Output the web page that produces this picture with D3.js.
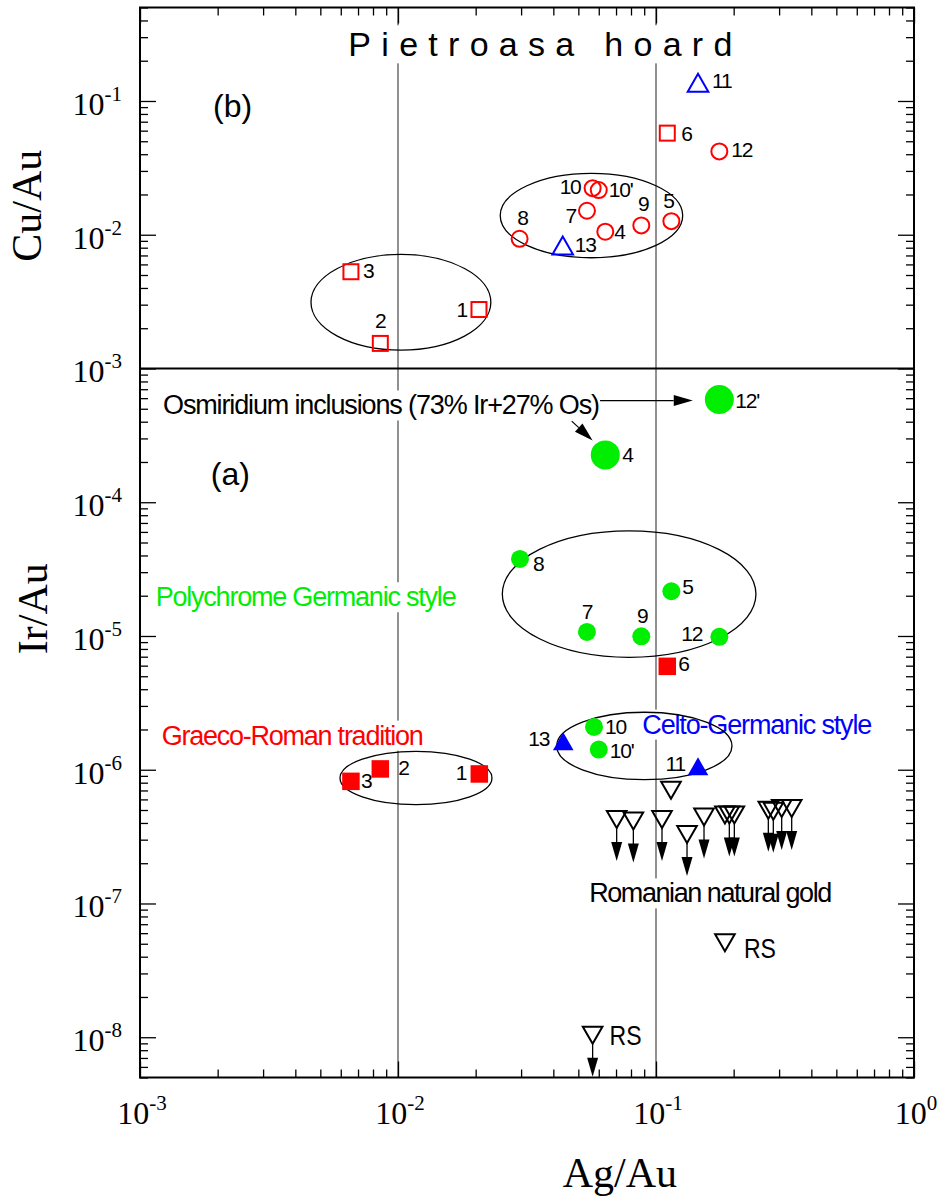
<!DOCTYPE html>
<html>
<head>
<meta charset="utf-8">
<script src="https://cdn.jsdelivr.net/npm/d3@7"></script>
<style>
  body { margin: 0; background: #fff; }
  .num { font-family: "Liberation Sans", Arial, sans-serif; font-size: 21px; letter-spacing: -1.2px; }
  .note { font-family: "Liberation Sans", Arial, sans-serif; font-size: 27px; }
  .tick-label { font-family: "Liberation Serif", "Times New Roman", serif; font-size: 32px; }
  .axis-title { font-family: "Liberation Serif", "Times New Roman", serif; font-size: 42px; }
</style>
</head>
<body>
<div id="chart"></div>
<script>
// ---------- data (Ag/Au on x, Cu/Au or Ir/Au on y) ----------
// (b) Cu/Au, open symbols
const cuSquares = [
  { id: '1', ag: 0.0206, v: 0.00276 },
  { id: '2', ag: 0.00854, v: 0.00154 },
  { id: '3', ag: 0.00657, v: 0.00529 },
  { id: '6', ag: 0.1106, v: 0.0575 }
];
const cuCircles = [
  { id: '4', ag: 0.0636, v: 0.01053 },
  { id: '5', ag: 0.1147, v: 0.01264 },
  { id: '7', ag: 0.054, v: 0.01511 },
  { id: '8', ag: 0.0296, v: 0.00933 },
  { id: '9', ag: 0.0877, v: 0.01174 },
  { id: '10', ag: 0.0568, v: 0.02231 },
  { id: "10'", ag: 0.060, v: 0.02157 },
  { id: '12', ag: 0.176, v: 0.042 }
];
const cuTriangles = [
  { id: '11', ag: 0.1455, v: 0.137 },
  { id: '13', ag: 0.0435, v: 0.00832 }
];

// (a) Ir/Au, filled symbols
const irSquares = [
  { id: '1', ag: 0.02066, v: 9.3e-7 },
  { id: '2', ag: 0.00854, v: 1.014e-6 },
  { id: '3', ag: 0.00657, v: 8.19e-7 },
  { id: '6', ag: 0.1106, v: 5.93e-6 }
];
const irCircles = [
  { id: '5', ag: 0.1147, v: 2.16e-5 },
  { id: '7', ag: 0.054, v: 1.073e-5 },
  { id: '8', ag: 0.0297, v: 3.77e-5 },
  { id: '9', ag: 0.0877, v: 9.95e-6 },
  { id: '10', ag: 0.0575, v: 2.09e-6 },
  { id: "10'", ag: 0.060, v: 1.414e-6 },
  { id: '12', ag: 0.176, v: 9.85e-6 }
];
const irOsmiridium = [
  { id: '4', ag: 0.0636, v: 2.26e-4 },
  { id: "12'", ag: 0.176, v: 5.86e-4 }
];
const irTriangles = [
  { id: '11', ag: 0.1455, v: 1.06e-6 },
  { id: '13', ag: 0.0437, v: 1.63e-6 }
];
// Romanian natural gold, upper limits
const naturalGold = [
  { ag: 0.1143, v: 7.10e-7, limit: false },
  { ag: 0.0704, v: 4.29e-7, limit: true },
  { ag: 0.0817, v: 4.18e-7, limit: true },
  { ag: 0.1055, v: 4.29e-7, limit: true },
  { ag: 0.1319, v: 3.31e-7, limit: true },
  { ag: 0.1535, v: 4.48e-7, limit: true },
  { ag: 0.185, v: 4.62e-7, limit: false },
  { ag: 0.1924, v: 4.62e-7, limit: true },
  { ag: 0.2012, v: 4.62e-7, limit: true },
  { ag: 0.2725, v: 5.03e-7, limit: true },
  { ag: 0.2849, v: 4.94e-7, limit: true },
  { ag: 0.307, v: 5.18e-7, limit: true },
  { ag: 0.3357, v: 5.18e-7, limit: true },
  { id: 'RS1', ag: 0.185, v: 5.12e-8, limit: false, label: 'RS' },
  { id: 'RS2', ag: 0.0568, v: 1.044e-8, limit: true, label: 'RS' }
];

// group ellipses, bounding box in data units [agLo, agHi, vLo, vHi]
const groups = [
  [0.0046, 0.0229, 0.00137, 0.00712],
  [0.0249, 0.1269, 0.00673, 0.02874],
  [0.02537, 0.244, 6.93e-6, 6.11e-5],
  [0.04122, 0.197, 8.43e-7, 2.69e-6],
  [0.00596, 0.02313, 5.48e-7, 1.373e-6]
];

const xTicks = [1e-3, 1e-2, 1e-1, 1];
const yTicks = [1e-8, 1e-7, 1e-6, 1e-5, 1e-4, 1e-3, 1e-2, 1e-1];

// ---------- layout ----------
const W = 940, H = 1200;
const x = d3.scaleLog().domain([1e-3, 1]).range([140, 914]);
const y = d3.scaleLog().domain([5e-9, 0.5]).range([1077.5, 7.5]);

// label offsets [dx, dy, anchor]
const labelOffset = {
  b1: [-12, 7, 'end'], b2: [0, -15, 'middle'], b3: [12, 6, 'start'], b6: [14, 8, 'start'],
  b4: [9, 7, 'start'], b5: [-3, -13, 'middle'], b7: [-11, 12, 'end'], b8: [3, -14, 'middle'],
  b9: [2, -14, 'middle'], b10: [-12, 6, 'end'], "b10'": [10, 7, 'start'], b12: [12, 6, 'start'],
  b11: [14, 5, 'start'], b13: [12, 7, 'start'],
  a1: [-13, 6, 'end'], a2: [18, 6, 'start'], a3: [10, 7, 'start'], a6: [11, 5, 'start'],
  a4: [17, 7, 'start'], "a12'": [16, 8, 'start'],
  a5: [11, 3, 'start'], a7: [0, -13, 'middle'], a8: [13, 12, 'start'], a9: [1, -13, 'middle'],
  a10: [11, 7, 'start'], "a10'": [11, 8, 'start'], a12: [-17, 4, 'end'],
  a11: [-13, 5, 'end'], a13: [-14, 5, 'end'],
  RS1: [19, 16, 'start'], RS2: [17, 10, 'start']
};

const svg = d3.select('#chart').append('svg')
  .attr('width', W).attr('height', H)
  .style('font-family', 'Liberation Sans, Arial, sans-serif');

const [x0, x1] = x.range();
const [yb, yt] = y.range();

// reference lines
svg.selectAll('.vline').data([1e-2, 1e-1]).join('line')
  .attr('x1', d => x(d)).attr('x2', d => x(d))
  .attr('y1', yt).attr('y2', yb)
  .attr('stroke', '#555').attr('stroke-width', 1.3);

// annotations (white box knocks out the lines behind them)
const notes = [
  { text: 'Pietroasa hoard', ag: 6.42e-3, v: 0.2157, size: 34, len: 384, color: '#000' },
  { text: 'Osmiridium inclusions (73% Ir+27% Os)', ag: 1.228e-3, v: 4.53e-4, size: 27, len: 437, color: '#000' },
  { text: 'Polychrome Germanic style', ag: 1.15e-3, v: 1.668e-5, size: 27, len: 301, color: '#00ee00' },
  { text: 'Graeco-Roman tradition', ag: 1.214e-3, v: 1.54e-6, size: 27, len: 262, color: '#ff0000' },
  { text: 'Celto-Germanic style', ag: 0.0885, v: 1.862e-6, size: 27, len: 230, color: '#0000ff' },
  { text: 'Romanian natural gold', ag: 0.0551, v: 1.019e-7, size: 27, len: 243, color: '#000' },
  { text: '(b)', ag: 1.92e-3, v: 0.0754, size: 32, len: null, color: '#000' },
  { text: '(a)', ag: 1.88e-3, v: 1.357e-4, size: 32, len: null, color: '#000' }
];
const noteG = svg.append('g');
notes.forEach(n => {
  const g = noteG.append('g');
  const t = g.append('text')
    .attr('x', x(n.ag)).attr('y', y(n.v))
    .attr('font-size', n.size).attr('fill', n.color)
    .text(n.text);
  if (n.len) t.attr('textLength', n.len).attr('lengthAdjust', 'spacing');
  const b = t.node().getBBox();
  g.insert('rect', 'text')
    .attr('x', b.x - 1).attr('y', b.y).attr('width', b.width + 2).attr('height', b.height)
    .attr('fill', '#fff');
});

// osmiridium arrows
const arrows = [
  [[0.0607, 5.76e-4], [0.1388, 5.76e-4]],
  [[0.04714, 4.04e-4], [0.0568, 2.89e-4]]
];
arrows.forEach(([a, b]) => {
  const ax = x(a[0]), ay = y(a[1]), bx = x(b[0]), by = y(b[1]);
  const ang = Math.atan2(by - ay, bx - ax);
  const L = 19, hw = 5.5;
  const hx = bx - L * Math.cos(ang), hy = by - L * Math.sin(ang);
  svg.append('line').attr('x1', ax).attr('y1', ay).attr('x2', hx).attr('y2', hy)
    .attr('stroke', '#000').attr('stroke-width', 1.2);
  svg.append('path')
    .attr('d', `M${bx},${by}L${hx - hw * Math.sin(ang)},${hy + hw * Math.cos(ang)}L${hx + hw * Math.sin(ang)},${hy - hw * Math.cos(ang)}Z`)
    .attr('fill', '#000');
});

// Cu/Au | Ir/Au divider
svg.append('line')
  .attr('x1', x0).attr('x2', x1).attr('y1', y(1e-3)).attr('y2', y(1e-3))
  .attr('stroke', '#000').attr('stroke-width', 2);

// group ellipses
svg.selectAll('.grp').data(groups).join('ellipse')
  .attr('cx', d => (x(d[0]) + x(d[1])) / 2)
  .attr('cy', d => (y(d[2]) + y(d[3])) / 2)
  .attr('rx', d => (x(d[1]) - x(d[0])) / 2)
  .attr('ry', d => (y(d[2]) - y(d[3])) / 2)
  .attr('fill', 'none').attr('stroke', '#000').attr('stroke-width', 1.3);

// ---------- markers ----------
const triUp = 'M0,-9L10.3,9L-10.3,9Z';
const triDown = 'M-9.8,-8L9.8,-8L0,9Z';

svg.append('g').selectAll('rect').data(cuSquares).join('rect')
  .attr('x', d => x(d.ag) - 7.5).attr('y', d => y(d.v) - 7.5)
  .attr('width', 15).attr('height', 15)
  .attr('fill', 'none').attr('stroke', '#ff0000').attr('stroke-width', 2);
svg.append('g').selectAll('circle').data(cuCircles).join('circle')
  .attr('cx', d => x(d.ag)).attr('cy', d => y(d.v)).attr('r', 8)
  .attr('fill', 'none').attr('stroke', '#ff0000').attr('stroke-width', 2);
svg.append('g').selectAll('path').data(cuTriangles).join('path')
  .attr('transform', d => `translate(${x(d.ag)},${y(d.v)})`).attr('d', triUp)
  .attr('fill', 'none').attr('stroke', '#0000ff').attr('stroke-width', 2);

svg.append('g').selectAll('circle').data(irOsmiridium).join('circle')
  .attr('cx', d => x(d.ag)).attr('cy', d => y(d.v)).attr('r', 14.5)
  .attr('fill', '#00ee00');
svg.append('g').selectAll('circle').data(irCircles).join('circle')
  .attr('cx', d => x(d.ag)).attr('cy', d => y(d.v)).attr('r', 9)
  .attr('fill', '#00ee00');
svg.append('g').selectAll('rect').data(irSquares).join('rect')
  .attr('x', d => x(d.ag) - 8.75).attr('y', d => y(d.v) - 8.75)
  .attr('width', 17.5).attr('height', 17.5)
  .attr('fill', '#ff0000');
svg.append('g').selectAll('path').data(irTriangles).join('path')
  .attr('transform', d => `translate(${x(d.ag)},${y(d.v)})`).attr('d', triUp)
  .attr('fill', '#0000ff');

// natural gold: open down triangles, arrows for upper limits
const ng = svg.append('g').selectAll('g').data(naturalGold).join('g')
  .attr('transform', d => `translate(${x(d.ag)},${y(d.v)})`);
ng.append('path').attr('d', triDown)
  .attr('fill', 'none').attr('stroke', '#000').attr('stroke-width', 2);
ng.filter(d => d.limit).append('line')
  .attr('x1', 0).attr('x2', 0).attr('y1', 9).attr('y2', 26)
  .attr('stroke', '#000').attr('stroke-width', 1.3);
ng.filter(d => d.limit).append('path')
  .attr('d', 'M-5.5,23L5.5,23L0,42Z').attr('fill', '#000');

// ---------- point labels ----------
function labels(data, prefix) {
  svg.append('g').selectAll('text').data(data.filter(d => labelOffset[prefix + (d.id || '')])).join('text')
    .attr('class', 'num')
    .attr('x', d => x(d.ag) + labelOffset[prefix + d.id][0])
    .attr('y', d => y(d.v) + labelOffset[prefix + d.id][1])
    .attr('text-anchor', d => labelOffset[prefix + d.id][2])
    .text(d => d.id);
}
labels(cuSquares, 'b');
labels(cuCircles, 'b');
labels(cuTriangles, 'b');
labels(irSquares, 'a');
labels(irCircles, 'a');
labels(irOsmiridium, 'a');
labels(irTriangles, 'a');
svg.append('g').selectAll('text').data(naturalGold.filter(d => d.label)).join('text')
  .attr('class', 'note')
  .attr('x', d => x(d.ag) + labelOffset[d.id][0])
  .attr('y', d => y(d.v) + labelOffset[d.id][1])
  .attr('textLength', 32).attr('lengthAdjust', 'spacingAndGlyphs')
  .text(d => d.label);

// ---------- axes ----------
const minorX = [];
[1e-3, 1e-2, 1e-1].forEach(p => { for (let k = 2; k <= 9; k++) minorX.push(k * p); });
const minorY = [];
[1e-9, 1e-8, 1e-7, 1e-6, 1e-5, 1e-4, 1e-3, 1e-2, 1e-1].forEach(p => {
  for (let k = 2; k <= 9; k++) { const v = k * p; if (v >= 5e-9 && v <= 0.5) minorY.push(v); }
});

function tickAxis(axis, transform) {
  svg.append('g').attr('transform', transform).call(axis)
    .call(g => g.select('.domain').remove())
    .call(g => g.selectAll('line').attr('stroke', '#000').attr('stroke-width', 1.3));
}
tickAxis(d3.axisBottom(x).tickValues(xTicks).tickSize(-16).tickFormat(''), `translate(0,${yb})`);
tickAxis(d3.axisBottom(x).tickValues(minorX).tickSize(-8).tickFormat(''), `translate(0,${yb})`);
tickAxis(d3.axisTop(x).tickValues(xTicks).tickSize(-16).tickFormat(''), `translate(0,${yt})`);
tickAxis(d3.axisTop(x).tickValues(minorX).tickSize(-8).tickFormat(''), `translate(0,${yt})`);
tickAxis(d3.axisLeft(y).tickValues(yTicks).tickSize(-16).tickFormat(''), `translate(${x0},0)`);
tickAxis(d3.axisLeft(y).tickValues(minorY).tickSize(-8).tickFormat(''), `translate(${x0},0)`);
tickAxis(d3.axisRight(y).tickValues(yTicks).tickSize(-16).tickFormat(''), `translate(${x1},0)`);
tickAxis(d3.axisRight(y).tickValues(minorY).tickSize(-8).tickFormat(''), `translate(${x1},0)`);

svg.append('rect')
  .attr('x', x0).attr('y', yt).attr('width', x1 - x0).attr('height', yb - yt)
  .attr('fill', 'none').attr('stroke', '#000').attr('stroke-width', 2);

function powLabel(sel, v) {
  sel.append('tspan').text('10');
  sel.append('tspan').attr('dy', -14).attr('font-size', 21).text(String(Math.round(Math.log10(v))));
}
yTicks.forEach(v => {
  const t = svg.append('text').attr('class', 'tick-label')
    .attr('x', 122).attr('y', y(v) + 14).attr('text-anchor', 'end');
  powLabel(t, v);
});
xTicks.forEach(v => {
  const t = svg.append('text').attr('class', 'tick-label')
    .attr('x', x(v) + 2).attr('y', 1124).attr('text-anchor', 'middle');
  powLabel(t, v);
});

// axis titles
svg.append('text').attr('class', 'axis-title')
  .attr('transform', `translate(41,${y(0.0165)}) rotate(-90)`)
  .attr('text-anchor', 'middle').text('Cu/Au');
svg.append('text').attr('class', 'axis-title')
  .attr('transform', `translate(47,${y(1.6e-5)}) rotate(-90)`)
  .attr('text-anchor', 'middle').text('Ir/Au');
svg.append('text').attr('class', 'axis-title')
  .attr('x', x(0.0725)).attr('y', 1187)
  .attr('text-anchor', 'middle').text('Ag/Au');
</script>
</body>
</html>
